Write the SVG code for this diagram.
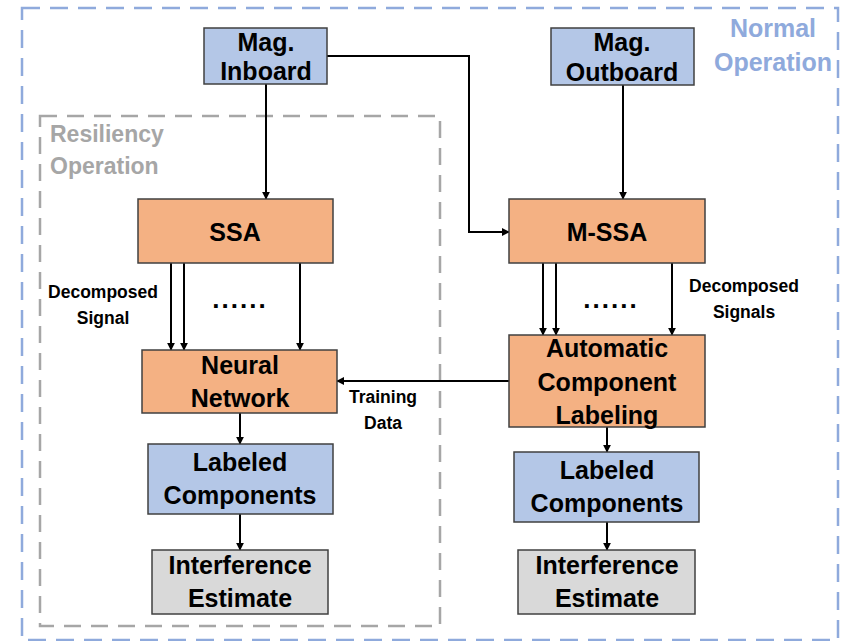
<svg xmlns="http://www.w3.org/2000/svg" width="844" height="641" viewBox="0 0 844 641">
  <style>
    text { font-family: "Liberation Sans", Arial, sans-serif; font-weight: bold; }
    .node text { font-size: 25px; fill: #000; text-anchor: middle; }
    .blue { fill: #b4c7e7; stroke: #404040; stroke-width: 1.5; }
    .orange { fill: #f4b183; stroke: #404040; stroke-width: 1.5; }
    .grey { fill: #d9d9d9; stroke: #404040; stroke-width: 1.5; }
    .edge { fill: none; stroke: #000; stroke-width: 2; marker-end: url(#arrow); }
    .lbl { font-size: 17.5px; fill: #000; text-anchor: middle; }
    .dots { font-size: 26px; fill: #000; text-anchor: middle; letter-spacing: 2px; }
  </style>
  <defs>
    <marker id="arrow" viewBox="0 0 10 10" refX="9" refY="5" markerWidth="4" markerHeight="4" orient="auto" markerUnits="strokeWidth">
      <path d="M0,0 L10,5 L0,10 z" fill="#000"/>
    </marker>
  </defs>
  <rect width="844" height="641" fill="#fff"/>

  <!-- operating regions -->
  <g id="normal-operation">
    <rect x="22" y="8" width="816" height="632" fill="none" stroke="#8faadc" stroke-width="2.5" stroke-dasharray="18 10"/>
    <text x="773" y="37" font-size="25" fill="#8faadc" text-anchor="middle">Normal</text>
    <text x="773" y="71" font-size="25" fill="#8faadc" text-anchor="middle">Operation</text>
  </g>
  <g id="resiliency-operation">
    <rect x="40" y="116" width="400" height="510" fill="none" stroke="#a6a6a6" stroke-width="2.5" stroke-dasharray="17 10"/>
    <text x="50" y="142" font-size="23" fill="#a6a6a6">Resiliency</text>
    <text x="50" y="174" font-size="23" fill="#a6a6a6">Operation</text>
  </g>

  <!-- connectors -->
  <g id="connectors">
    <path class="edge" d="M266,84 V199"/>
    <path class="edge" d="M327,56 H469 V232 H509"/>
    <path class="edge" d="M623,85 V199"/>
    <path class="edge" d="M171,263 V350"/>
    <path class="edge" d="M184,263 V350"/>
    <path class="edge" d="M300,263 V350"/>
    <path class="edge" d="M543,263 V335"/>
    <path class="edge" d="M556,263 V335"/>
    <path class="edge" d="M672,263 V335"/>
    <path class="edge" d="M509,381 H337"/>
    <path class="edge" d="M240,413 V444"/>
    <path class="edge" d="M240,514 V550"/>
    <path class="edge" d="M607,427 V452"/>
    <path class="edge" d="M607,522 V550"/>
    <text class="lbl" x="103" y="298">Decomposed</text>
    <text class="lbl" x="103" y="324">Signal</text>
    <text class="dots" x="240" y="308">......</text>
    <text class="dots" x="611" y="308">......</text>
    <text class="lbl" x="744" y="292">Decomposed</text>
    <text class="lbl" x="744" y="318">Signals</text>
    <text class="lbl" x="383" y="403">Training</text>
    <text class="lbl" x="383" y="429">Data</text>
  </g>

  <!-- nodes -->
  <g id="mag-inboard" class="node">
    <rect class="blue" x="204" y="28" width="123" height="56"/>
    <text x="266" y="51">Mag.</text>
    <text x="266" y="80">Inboard</text>
  </g>
  <g id="mag-outboard" class="node">
    <rect class="blue" x="551" y="28" width="143" height="57"/>
    <text x="622" y="51">Mag.</text>
    <text x="622" y="81">Outboard</text>
  </g>
  <g id="ssa" class="node">
    <rect class="orange" x="138" y="199" width="195" height="64"/>
    <text x="235" y="241">SSA</text>
  </g>
  <g id="m-ssa" class="node">
    <rect class="orange" x="509" y="199" width="196" height="64"/>
    <text x="607" y="241">M-SSA</text>
  </g>
  <g id="neural-network" class="node">
    <rect class="orange" x="142" y="350" width="195" height="63"/>
    <text x="240" y="374">Neural</text>
    <text x="240" y="407">Network</text>
  </g>
  <g id="automatic-component-labeling" class="node">
    <rect class="orange" x="509" y="335" width="196" height="92"/>
    <text x="607" y="357">Automatic</text>
    <text x="607" y="391">Component</text>
    <text x="607" y="424">Labeling</text>
  </g>
  <g id="labeled-components-left" class="node">
    <rect class="blue" x="148" y="444" width="185" height="70"/>
    <text x="240" y="471">Labeled</text>
    <text x="240" y="504">Components</text>
  </g>
  <g id="interference-estimate-left" class="node">
    <rect class="grey" x="152" y="550" width="176" height="64"/>
    <text x="240" y="574">Interference</text>
    <text x="240" y="607">Estimate</text>
  </g>
  <g id="labeled-components-right" class="node">
    <rect class="blue" x="514" y="452" width="185" height="70"/>
    <text x="607" y="479">Labeled</text>
    <text x="607" y="512">Components</text>
  </g>
  <g id="interference-estimate-right" class="node">
    <rect class="grey" x="518" y="550" width="177" height="64"/>
    <text x="607" y="574">Interference</text>
    <text x="607" y="607">Estimate</text>
  </g>
</svg>
